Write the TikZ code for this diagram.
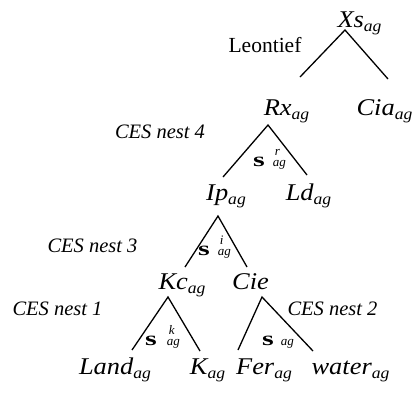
\documentclass[tikz,border=0pt]{standalone}
\usepackage{fontspec}
\setmainfont{Liberation Serif}
\newfontfamily\wideserif[FakeStretch=1.1]{Liberation Serif}
\usepackage{graphicx}
\newcommand{\sub}[1]{\raisebox{-4pt}{\fontsize{16}{16}\selectfont #1}}
\newcommand{\lab}[2]{#1\sub{#2}}
\newcommand{\sig}{\scalebox{1.5}[1]{\fontsize{20}{20}\selectfont\bfseries\upshape s}}
% sigma with optional superscript: #1 gap, #2 superscript
\newcommand{\sigl}[2]{\sig\hspace{#1}{\fontsize{13}{13}\selectfont\itshape\rlap{\hspace{2pt}\raisebox{11pt}{#2}}ag}}
\tikzset{
  main/.style={anchor=base, inner sep=0pt, font=\wideserif\fontsize{24}{24}\selectfont\itshape},
  nest/.style={anchor=base, inner sep=0pt, font=\fontsize{20.5}{20.5}\selectfont\itshape},
  lt/.style={anchor=base, inner sep=0pt, font=\fontsize{21.5}{21.5}\selectfont},
  sg/.style={anchor=base west, inner sep=0pt},
  br/.style={line width=1.3pt}
}
\begin{document}
\begin{tikzpicture}[x=1pt,y=-1pt]
\useasboundingbox (0,0) rectangle (414,392);
% labels
\node[main] (xs) at (359.5,27) {\lab{Xs}{ag}};
\node[main] (rx) at (286.5,115) {\lab{Rx}{ag}};
\node[main] (cia) at (384.5,115) {\lab{Cia}{ag}};
\node[main] (ip) at (226,200) {\lab{Ip}{ag}};
\node[main] (ld) at (308.5,200) {\lab{Ld}{ag}};
\node[main] (kc) at (182,289) {\lab{Kc}{ag}};
\node[main] (cie) at (250.5,289) {Cie};
\node[main] (land) at (115,374) {\lab{Land}{ag}};
\node[main] (k) at (207.5,374) {\lab{K}{ag}};
\node[main] (fer) at (264,374) {\lab{Fer}{ag}};
\node[main] (water) at (350.5,374) {\lab{water}{ag}};
\node[lt] (leon) at (265,52) {Leontief};
\node[nest] (n4) at (160,138) {CES nest 4};
\node[nest] (n3) at (92.5,252) {CES nest 3};
\node[nest] (n1) at (57.5,315) {CES nest 1};
\node[nest] (n2) at (332.5,315) {CES nest 2};
% branch points
\coordinate (xsA) at (345,30);
\coordinate (xsL) at (300,77);
\coordinate (xsR) at (388,79);
\coordinate (rxA) at (268,125);
\coordinate (rxL) at (223,177);
\coordinate (rxR) at (307,175);
\coordinate (ipA) at (218,216);
\coordinate (ipL) at (185,267);
\coordinate (ipR) at (247,267);
\coordinate (kcA) at (168,297);
\coordinate (kcL) at (132,350);
\coordinate (kcR) at (200,351);
\coordinate (ceA) at (262,297);
\coordinate (ceL) at (238,350);
\coordinate (ceR) at (313,351);
\draw[br] (xsL) -- (xsA) -- (xsR);
\draw[br] (rxL) -- (rxA) -- (rxR);
\draw[br] (ipL) -- (ipA) -- (ipR);
\draw[br] (kcL) -- (kcA) -- (kcR);
\draw[br] (ceL) -- (ceA) -- (ceR);
% sigma labels
\node[sg] (s4) at (253,166) {\sigl{8pt}{r}};
\node[sg] (s3) at (198,255) {\sigl{8pt}{i}};
\node[sg] (s1) at (145,345) {\sigl{10pt}{k}};
\node[sg] (s2) at (262,345) {\sigl{7pt}{}};
\end{tikzpicture}
\end{document}
